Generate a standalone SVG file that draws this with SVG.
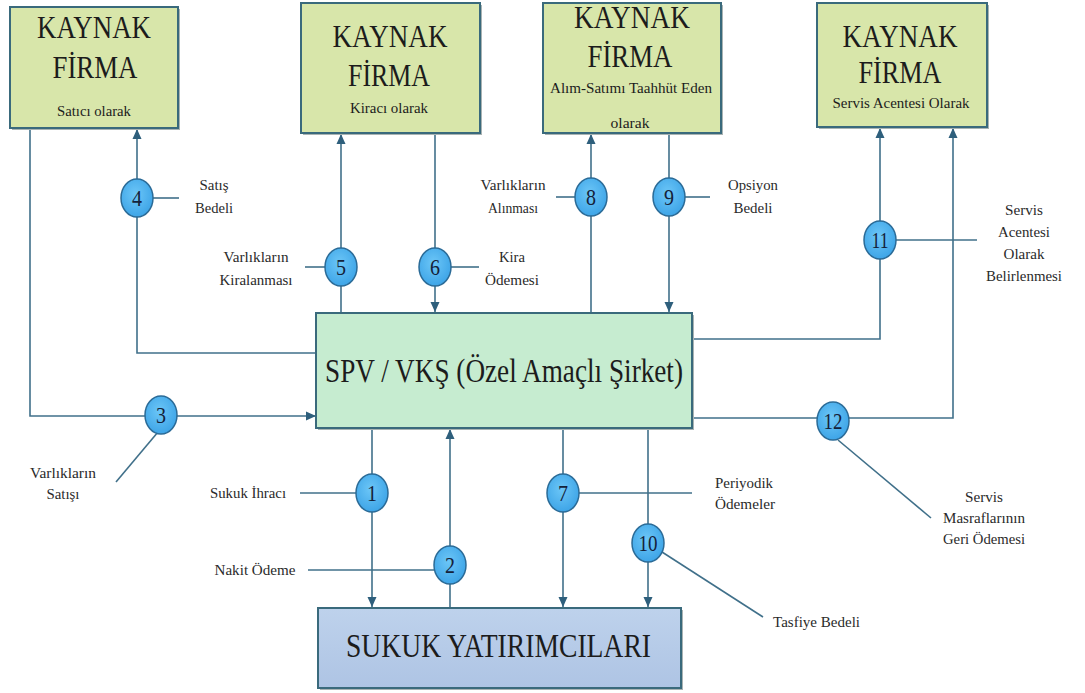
<svg xmlns="http://www.w3.org/2000/svg" width="1085" height="693" viewBox="0 0 1085 693">
<defs>
<marker id="arr" viewBox="0 0 10 10" refX="10" refY="5" markerWidth="10" markerHeight="10" markerUnits="userSpaceOnUse" orient="auto">
<path d="M0,0.5 L10,5 L0,9.5 z" fill="#2e5f7c"/>
</marker>
<radialGradient id="cg" cx="0.45" cy="0.4" r="0.65">
<stop offset="0" stop-color="#6cc6f7"/>
<stop offset="1" stop-color="#3aa2e6"/>
</radialGradient>
<linearGradient id="sg" x1="0" y1="0" x2="0" y2="1">
<stop offset="0" stop-color="#bed2ec"/>
<stop offset="1" stop-color="#aec4e4"/>
</linearGradient>
</defs>
<style>
.shadow{fill:#a9b3b3;}
.kay{fill:#d8e6aa;stroke:#3a6a7c;stroke-width:2;}
.spv{fill:#c6ecd0;stroke:#3a6a7c;stroke-width:2;}
.suk{fill:url(#sg);stroke:#3a6a7c;stroke-width:2;}
text{font-family:"Liberation Serif","DejaVu Serif","Times New Roman",serif;}
.big{font-size:31px;fill:#1c1c1c;text-anchor:middle;}
.sub{font-size:14.5px;fill:#1c1c1c;text-anchor:middle;}
.lbl{font-size:14px;fill:#2a2a2a;text-anchor:middle;}
.lbs{font-size:14px;fill:#2a2a2a;text-anchor:start;}
.c{fill:none;stroke:#40708a;stroke-width:1.6;}
.ca{fill:none;stroke:#40708a;stroke-width:1.6;marker-end:url(#arr);}
.circ{fill:url(#cg);stroke:#2b6b97;stroke-width:1.5;}
.num{font-size:24px;fill:#14223a;text-anchor:middle;}
</style>

<g id="connectors">
<path class="ca" d="M30,128 V416 H316"/>
<path class="ca" d="M316,353 H137 V129"/>
<path class="ca" d="M341,313 V134"/>
<path class="ca" d="M435,133 V312"/>
<path class="ca" d="M591,313 V134"/>
<path class="ca" d="M669,133 V312"/>
<path class="ca" d="M692,339 H880 V128"/>
<path class="ca" d="M692,418 H953 V128"/>
<path class="ca" d="M372,428 V607"/>
<path class="ca" d="M450,608 V429"/>
<path class="ca" d="M563,428 V607"/>
<path class="ca" d="M648,428 V607"/>
<line class="c" x1="153" y1="198" x2="179" y2="198"/>
<line class="c" x1="305" y1="267" x2="325" y2="267"/>
<line class="c" x1="451" y1="267" x2="479" y2="267"/>
<line class="c" x1="556" y1="197" x2="575" y2="197"/>
<line class="c" x1="685" y1="197" x2="710" y2="197"/>
<line class="c" x1="896" y1="240" x2="977" y2="240"/>
<line class="c" x1="158" y1="432" x2="116" y2="482"/>
<line class="c" x1="300" y1="493" x2="356" y2="493"/>
<line class="c" x1="308" y1="570" x2="435" y2="570"/>
<line class="c" x1="579" y1="493" x2="692" y2="493"/>
<line class="c" x1="662" y1="552" x2="763" y2="617"/>
<line class="c" x1="838" y1="440" x2="931" y2="518"/>
</g>

<g id="box-satici">
<rect class="shadow" x="12" y="9" width="168" height="121"/>
<rect class="kay" x="10" y="7" width="168" height="121"/>
<text class="big" x="94" y="38" textLength="114" lengthAdjust="spacingAndGlyphs">KAYNAK</text>
<text class="big" x="95" y="78" textLength="85" lengthAdjust="spacingAndGlyphs">FİRMA</text>
<text class="sub" x="94" y="116" textLength="74" lengthAdjust="spacingAndGlyphs">Satıcı olarak</text>
</g>

<g id="box-kiraci">
<rect class="shadow" x="303" y="5" width="179" height="130"/>
<rect class="kay" x="301" y="3" width="179" height="130"/>
<text class="big" x="390" y="47" textLength="115" lengthAdjust="spacingAndGlyphs">KAYNAK</text>
<text class="big" x="389" y="86" textLength="82" lengthAdjust="spacingAndGlyphs">FİRMA</text>
<text class="sub" x="389" y="113" textLength="78" lengthAdjust="spacingAndGlyphs">Kiracı olarak</text>
</g>

<g id="box-alim">
<rect class="shadow" x="545" y="5" width="178" height="130"/>
<rect class="kay" x="543" y="3" width="178" height="130"/>
<text class="big" x="632" y="28" textLength="116" lengthAdjust="spacingAndGlyphs">KAYNAK</text>
<text class="big" x="630" y="67" textLength="85" lengthAdjust="spacingAndGlyphs">FİRMA</text>
<text class="sub" x="631" y="93" textLength="162" lengthAdjust="spacingAndGlyphs">Alım-Satımı Taahhüt Eden</text>
<text class="sub" x="630" y="128" textLength="39" lengthAdjust="spacingAndGlyphs">olarak</text>
</g>

<g id="box-servis">
<rect class="shadow" x="819" y="5" width="170" height="124"/>
<rect class="kay" x="817" y="3" width="170" height="124"/>
<text class="big" x="900" y="47" textLength="115" lengthAdjust="spacingAndGlyphs">KAYNAK</text>
<text class="big" x="900" y="83" textLength="83" lengthAdjust="spacingAndGlyphs">FİRMA</text>
<text class="sub" x="901" y="108" textLength="137" lengthAdjust="spacingAndGlyphs">Servis Acentesi Olarak</text>
</g>

<g id="box-spv">
<rect class="shadow" x="318" y="315" width="376" height="115"/>
<rect class="spv" x="316" y="313" width="376" height="115"/>
<text class="big" x="504" y="382" style="font-size:33px" textLength="358" lengthAdjust="spacingAndGlyphs">SPV / VKŞ (Özel Amaçlı Şirket)</text>
</g>

<g id="box-sukuk">
<rect class="shadow" x="320" y="610" width="363" height="80"/>
<rect class="suk" x="318" y="608" width="363" height="80"/>
<text class="big" x="498.5" y="657" style="font-size:33px" textLength="305" lengthAdjust="spacingAndGlyphs">SUKUK YATIRIMCILARI</text>
</g>

<g id="step-1"><ellipse class="circ" cx="372" cy="493" rx="16" ry="19"/><text class="num" x="372" y="501" textLength="10" lengthAdjust="spacingAndGlyphs">1</text></g>
<g id="step-2"><ellipse class="circ" cx="450" cy="565" rx="16" ry="19"/><text class="num" x="450" y="573" textLength="10" lengthAdjust="spacingAndGlyphs">2</text></g>
<g id="step-3"><ellipse class="circ" cx="161" cy="415" rx="16" ry="19"/><text class="num" x="161" y="423" textLength="10" lengthAdjust="spacingAndGlyphs">3</text></g>
<g id="step-4"><ellipse class="circ" cx="137" cy="198" rx="16" ry="19"/><text class="num" x="137" y="206" textLength="10" lengthAdjust="spacingAndGlyphs">4</text></g>
<g id="step-5"><ellipse class="circ" cx="341" cy="267" rx="16" ry="19"/><text class="num" x="341" y="275" textLength="10" lengthAdjust="spacingAndGlyphs">5</text></g>
<g id="step-6"><ellipse class="circ" cx="435" cy="267" rx="16" ry="19"/><text class="num" x="435" y="275" textLength="10" lengthAdjust="spacingAndGlyphs">6</text></g>
<g id="step-7"><ellipse class="circ" cx="563" cy="493" rx="16" ry="19"/><text class="num" x="563" y="501" textLength="10" lengthAdjust="spacingAndGlyphs">7</text></g>
<g id="step-8"><ellipse class="circ" cx="591" cy="197" rx="16" ry="19"/><text class="num" x="591" y="205" textLength="10" lengthAdjust="spacingAndGlyphs">8</text></g>
<g id="step-9"><ellipse class="circ" cx="669" cy="197" rx="16" ry="19"/><text class="num" x="669" y="205" textLength="10" lengthAdjust="spacingAndGlyphs">9</text></g>
<g id="step-10"><ellipse class="circ" cx="648" cy="543" rx="16" ry="19"/><text class="num" x="648" y="551" textLength="19" lengthAdjust="spacingAndGlyphs">10</text></g>
<g id="step-11"><ellipse class="circ" cx="880" cy="240" rx="16" ry="19"/><text class="num" x="880" y="248" textLength="17" lengthAdjust="spacingAndGlyphs">11</text></g>
<g id="step-12"><ellipse class="circ" cx="833" cy="421" rx="16" ry="19"/><text class="num" x="833" y="429" textLength="19" lengthAdjust="spacingAndGlyphs">12</text></g>

<g id="labels">
<text class="lbl" x="214" y="190" textLength="29" lengthAdjust="spacingAndGlyphs">Satış</text>
<text class="lbl" x="214" y="213" textLength="38" lengthAdjust="spacingAndGlyphs">Bedeli</text>
<text class="lbl" x="256" y="262" textLength="65" lengthAdjust="spacingAndGlyphs">Varlıkların</text>
<text class="lbl" x="256" y="285" textLength="73" lengthAdjust="spacingAndGlyphs">Kiralanması</text>
<text class="lbl" x="512" y="262" textLength="26" lengthAdjust="spacingAndGlyphs">Kira</text>
<text class="lbl" x="512" y="285" textLength="54" lengthAdjust="spacingAndGlyphs">Ödemesi</text>
<text class="lbl" x="513" y="190" textLength="65" lengthAdjust="spacingAndGlyphs">Varlıkların</text>
<text class="lbl" x="513" y="213" textLength="50" lengthAdjust="spacingAndGlyphs">Alınması</text>
<text class="lbl" x="753" y="190" textLength="50" lengthAdjust="spacingAndGlyphs">Opsiyon</text>
<text class="lbl" x="753" y="213" textLength="39" lengthAdjust="spacingAndGlyphs">Bedeli</text>
<text class="lbl" x="1024" y="215" textLength="38" lengthAdjust="spacingAndGlyphs">Servis</text>
<text class="lbl" x="1024" y="237" textLength="52" lengthAdjust="spacingAndGlyphs">Acentesi</text>
<text class="lbl" x="1024" y="259" textLength="41" lengthAdjust="spacingAndGlyphs">Olarak</text>
<text class="lbl" x="1024" y="281" textLength="76" lengthAdjust="spacingAndGlyphs">Belirlenmesi</text>
<text class="lbl" x="63" y="478" textLength="66" lengthAdjust="spacingAndGlyphs">Varlıkların</text>
<text class="lbl" x="63" y="499" textLength="33" lengthAdjust="spacingAndGlyphs">Satışı</text>
<text class="lbl" x="248" y="498" textLength="76" lengthAdjust="spacingAndGlyphs">Sukuk İhracı</text>
<text class="lbl" x="255" y="575" textLength="81" lengthAdjust="spacingAndGlyphs">Nakit Ödeme</text>
<text class="lbs" x="715" y="488" textLength="58" lengthAdjust="spacingAndGlyphs">Periyodik</text>
<text class="lbs" x="715" y="509" textLength="60" lengthAdjust="spacingAndGlyphs">Ödemeler</text>
<text class="lbs" x="773" y="627" textLength="87" lengthAdjust="spacingAndGlyphs">Tasfiye Bedeli</text>
<text class="lbl" x="984" y="502" textLength="38" lengthAdjust="spacingAndGlyphs">Servis</text>
<text class="lbl" x="984" y="523" textLength="82" lengthAdjust="spacingAndGlyphs">Masraflarının</text>
<text class="lbl" x="984" y="544" textLength="82" lengthAdjust="spacingAndGlyphs">Geri Ödemesi</text>
</g>
</svg>
